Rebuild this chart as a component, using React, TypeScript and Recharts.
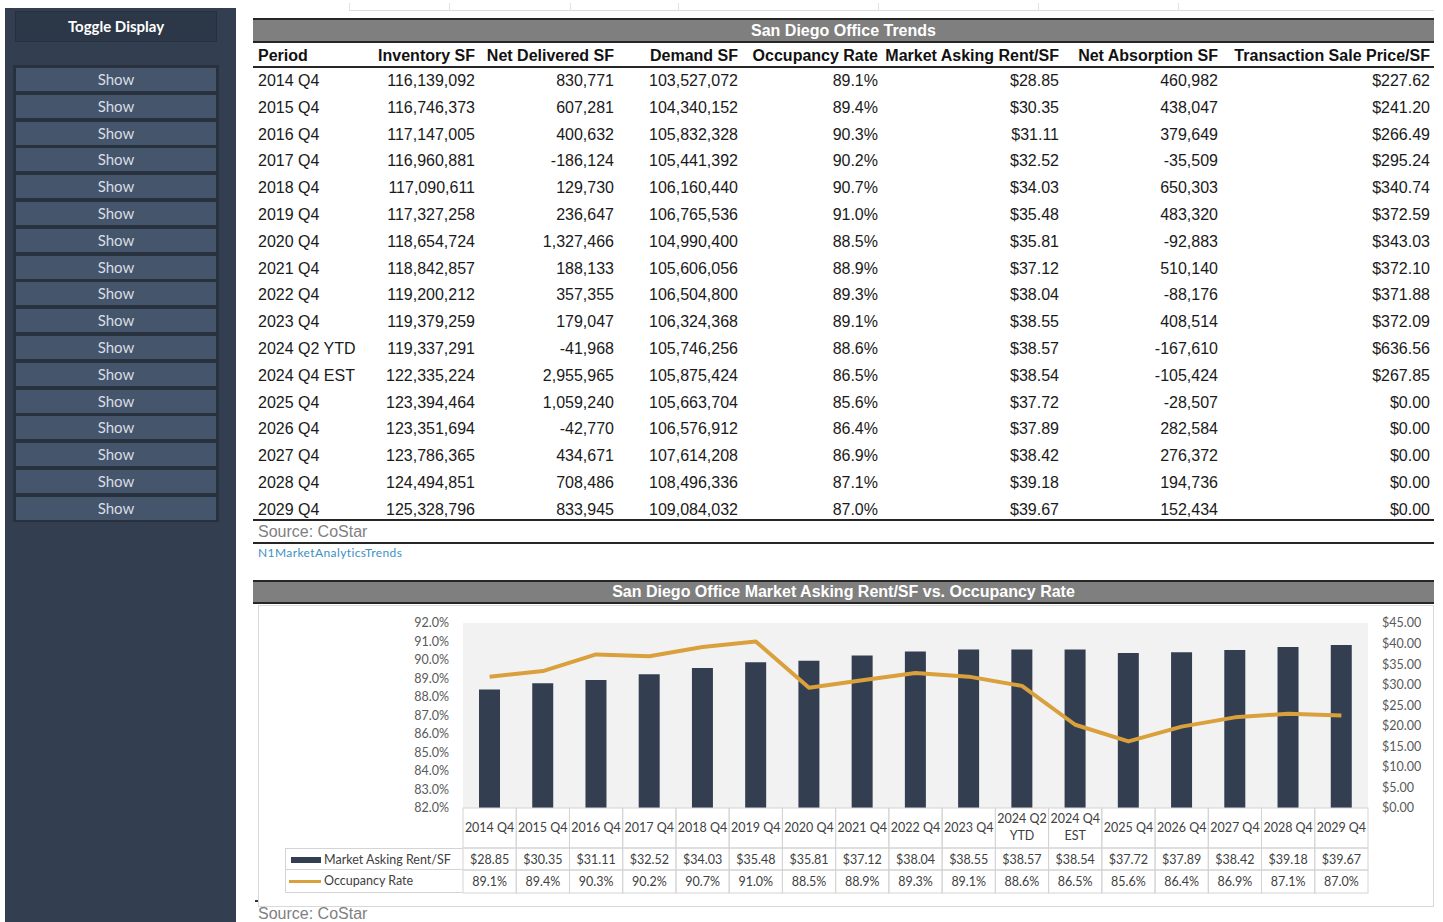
import React from 'react';
import { Bar, CartesianGrid, ComposedChart, Line, XAxis, YAxis } from 'recharts';

const periods = [
  '2014 Q4', '2015 Q4', '2016 Q4', '2017 Q4', '2018 Q4', '2019 Q4', '2020 Q4', '2021 Q4', '2022 Q4',
  '2023 Q4', '2024 Q2 YTD', '2024 Q4 EST', '2025 Q4', '2026 Q4', '2027 Q4', '2028 Q4', '2029 Q4',
];
const inventorySF = [
  116139092, 116746373, 117147005, 116960881, 117090611, 117327258, 118654724, 118842857, 119200212,
  119379259, 119337291, 122335224, 123394464, 123351694, 123786365, 124494851, 125328796,
];
const netDeliveredSF = [
  830771, 607281, 400632, -186124, 129730, 236647, 1327466, 188133, 357355,
  179047, -41968, 2955965, 1059240, -42770, 434671, 708486, 833945,
];
const demandSF = [
  103527072, 104340152, 105832328, 105441392, 106160440, 106765536, 104990400, 105606056, 106504800,
  106324368, 105746256, 105875424, 105663704, 106576912, 107614208, 108496336, 109084032,
];
const occupancyRate = [89.1, 89.4, 90.3, 90.2, 90.7, 91.0, 88.5, 88.9, 89.3, 89.1, 88.6, 86.5, 85.6, 86.4, 86.9, 87.1, 87.0];
const askingRent = [28.85, 30.35, 31.11, 32.52, 34.03, 35.48, 35.81, 37.12, 38.04, 38.55, 38.57, 38.54, 37.72, 37.89, 38.42, 39.18, 39.67];
const netAbsorptionSF = [
  460982, 438047, 379649, -35509, 650303, 483320, -92883, 510140, -88176,
  408514, -167610, -105424, -28507, 282584, 276372, 194736, 152434,
];
const salePrice = [227.62, 241.2, 266.49, 295.24, 340.74, 372.59, 343.03, 372.1, 371.88, 372.09, 636.56, 267.85, 0, 0, 0, 0, 0];

const occTicks = [82, 83, 84, 85, 86, 87, 88, 89, 90, 91, 92];
const rentTicks = [0, 5, 10, 15, 20, 25, 30, 35, 40, 45];

const chartData = periods.map((p, i) => ({ period: p, rent: askingRent[i], occ: occupancyRate[i] }));

const num = (v: number) => v.toLocaleString('en-US');
const money = (v: number) => '$' + v.toFixed(2);
const pct = (v: number) => v.toFixed(1) + '%';

const ROW_TOP = 67;
const ROW_H = 26.8;

const CHART_W = 1175;
const CHART_H = 300;
const LEFT_W = 205;
const RIGHT_W = 65;
const BAND = (CHART_W - LEFT_W - RIGHT_W) / periods.length;

const GRID = '#d4d4d4';
const CELL_FONT = 'Lato, "Open Sans", sans-serif';

const columns = [
  { title: 'Inventory SF', right: 475, values: inventorySF.map(num) },
  { title: 'Net Delivered SF', right: 614, values: netDeliveredSF.map(num) },
  { title: 'Demand SF', right: 738, values: demandSF.map(num) },
  { title: 'Occupancy Rate', right: 878, values: occupancyRate.map(pct) },
  { title: 'Market Asking Rent/SF', right: 1059, values: askingRent.map(money) },
  { title: 'Net Absorption SF', right: 1218, values: netAbsorptionSF.map(num) },
  { title: 'Transaction Sale Price/SF', right: 1430, values: salePrice.map(money) },
];

// category label + the two data-table rows under each bar
const TableTick = (props: any) => {
  const { x, y, payload } = props;
  const i = payload.index;
  const label: string = payload.value;
  const lines = label.length > 7 ? [label.slice(0, 7), label.slice(8)] : [label];
  const left = x - BAND / 2;
  const txt = { fontFamily: CELL_FONT, fontSize: 12.5, fill: '#404040', textAnchor: 'middle' as const };
  return (
    <g>
      <rect x={left} y={y} width={BAND} height={40} fill="none" stroke={GRID} />
      <rect x={left} y={y + 40} width={BAND} height={22} fill="none" stroke={GRID} />
      <rect x={left} y={y + 62} width={BAND} height={23} fill="none" stroke={GRID} />
      {lines.length === 1 ? (
        <text x={x} y={y + 24} {...txt}>{lines[0]}</text>
      ) : (
        <>
          <text x={x} y={y + 15} {...txt}>{lines[0]}</text>
          <text x={x} y={y + 32} {...txt}>{lines[1]}</text>
        </>
      )}
      <text x={x} y={y + 56} {...txt}>{money(askingRent[i])}</text>
      <text x={x} y={y + 78} {...txt}>{pct(occupancyRate[i])}</text>
    </g>
  );
};

const abs = (s: React.CSSProperties): React.CSSProperties => ({ position: 'absolute', ...s });

export default function App() {
  return (
    <div style={abs({ left: 0, top: 0, width: 1443, height: 922, overflow: 'hidden', background: '#fff', fontFamily: '"Liberation Sans", Arial, sans-serif' })}>
      {/* sidebar */}
      <div style={abs({ left: 5, top: 8, width: 231, height: 914, background: '#333f51' })} />
      <div style={abs({ left: 15, top: 11, width: 200, height: 29, background: '#2c3747', border: '1px solid #27303e', color: '#fff', fontFamily: CELL_FONT, fontWeight: 700, fontSize: 15, textAlign: 'center', lineHeight: '29px' })}>
        Toggle Display
      </div>
      <div style={abs({ left: 13, top: 65, width: 206, height: 457, background: '#28323f' })} />
      {periods.map((p, i) => (
        <div key={p} style={abs({ left: 16, top: ROW_TOP + 1 + i * ROW_H, width: 200, height: 23, background: '#45556c', color: '#d8dde4', fontFamily: CELL_FONT, fontSize: 15, textAlign: 'center', lineHeight: '23px' })}>
          Show
        </div>
      ))}

      {/* faint sheet grid above table */}
      <div style={abs({ left: 349, top: 10, width: 1085, height: 1, background: '#dcdcdc' })} />
      {[349, 449, 570, 678, 878, 1038, 1178].map((x) => (
        <div key={x} style={abs({ left: x, top: 3, width: 1, height: 8, background: '#e2e2e2' })} />
      ))}

      {/* trends table */}
      <div style={abs({ left: 253, top: 18, width: 1181, height: 21, background: '#7f7f7f', borderTop: '2px solid #262626', borderBottom: '2px solid #262626', color: '#fff', fontWeight: 700, fontSize: 16, textAlign: 'center', lineHeight: '21px' })}>
        San Diego Office Trends
      </div>
      <div style={abs({ left: 253, top: 66, width: 1181, height: 1.5, background: '#262626' })} />
      <div style={abs({ left: 258, top: 46.5, fontWeight: 700, fontSize: 16, color: '#111' })}>Period</div>
      {columns.map((c) => (
        <div key={c.title} style={abs({ left: c.right - 300, width: 300, top: 46.5, textAlign: 'right', fontWeight: 700, fontSize: 16, color: '#111', whiteSpace: 'nowrap' })}>
          {c.title}
        </div>
      ))}
      {periods.map((p, i) => (
        <React.Fragment key={p}>
          <div style={abs({ left: 258, top: ROW_TOP + 5 + i * ROW_H, fontSize: 16, color: '#1a1a1a', whiteSpace: 'nowrap' })}>{p}</div>
          {columns.map((c) => (
            <div key={c.title} style={abs({ left: c.right - 200, width: 200, top: ROW_TOP + 5 + i * ROW_H, textAlign: 'right', fontSize: 16, color: '#1a1a1a' })}>
              {c.values[i]}
            </div>
          ))}
        </React.Fragment>
      ))}
      <div style={abs({ left: 253, top: 519, width: 1181, height: 1.5, background: '#262626' })} />
      <div style={abs({ left: 258, top: 523, fontSize: 16, color: '#7f7f7f' })}>Source: CoStar</div>
      <div style={abs({ left: 253, top: 542, width: 1181, height: 1.5, background: '#262626' })} />
      <div style={abs({ left: 258, top: 545, fontFamily: CELL_FONT, fontSize: 12, letterSpacing: 0.4, color: '#3d8fc4' })}>N1MarketAnalyticsTrends</div>

      {/* chart section */}
      <div style={abs({ left: 253, top: 580, width: 1181, height: 20, background: '#7f7f7f', borderTop: '2px solid #262626', borderBottom: '2px solid #262626', color: '#fff', fontWeight: 700, fontSize: 16, textAlign: 'center', lineHeight: '20px' })}>
        San Diego Office Market Asking Rent/SF vs. Occupancy Rate
      </div>
      <div style={abs({ left: 258, top: 605, width: 1174, height: 300, border: '1px solid #d9d9d9' })} />
      <div style={abs({ left: 258, top: 605 })}>
        <ComposedChart width={CHART_W} height={CHART_H} data={chartData} margin={{ top: 18, right: 0, left: 0, bottom: 7 }} barCategoryGap={0}>
          <CartesianGrid fill="#f2f2f2" horizontal={false} vertical={false} yAxisId="rent" />
          <XAxis dataKey="period" height={90} axisLine={false} tickLine={false} tickSize={0} tickMargin={0} interval={0} tick={<TableTick />} />
          <YAxis
            yAxisId="occ"
            orientation="left"
            width={LEFT_W}
            domain={[82, 92]}
            ticks={occTicks}
            interval={0}
            tickFormatter={pct}
            axisLine={false}
            tickLine={false}
            tickSize={0}
            tickMargin={14}
            tick={{ fontFamily: CELL_FONT, fontSize: 12.5, fill: '#595959' }}
          />
          <YAxis
            yAxisId="rent"
            orientation="right"
            width={RIGHT_W}
            domain={[0, 45]}
            ticks={rentTicks}
            interval={0}
            tickFormatter={money}
            axisLine={false}
            tickLine={false}
            tickSize={0}
            tickMargin={14}
            tick={{ fontFamily: CELL_FONT, fontSize: 12.5, fill: '#595959' }}
          />
          <Bar yAxisId="rent" dataKey="rent" fill="#333f50" barSize={21} isAnimationActive={false} />
          <Line yAxisId="occ" dataKey="occ" type="linear" stroke="#d9a03c" strokeWidth={4} strokeLinejoin="round" dot={false} isAnimationActive={false} />
        </ComposedChart>
      </div>

      {/* data table legend column */}
      <div style={abs({ left: 285, top: 848, width: 177, height: 22, boxSizing: 'border-box', border: `1px solid ${GRID}`, borderRight: 'none' })}>
        <div style={abs({ left: 5, top: 8, width: 30, height: 6, background: '#333f50' })} />
        <div style={abs({ left: 38, top: 3, fontFamily: CELL_FONT, fontSize: 12.5, color: '#404040', whiteSpace: 'nowrap' })}>Market Asking Rent/SF</div>
      </div>
      <div style={abs({ left: 285, top: 870, width: 177, height: 23, boxSizing: 'border-box', border: `1px solid ${GRID}`, borderTop: 'none', borderRight: 'none' })}>
        <div style={abs({ left: 3, top: 10, width: 32, height: 3, background: '#d9a03c' })} />
        <div style={abs({ left: 38, top: 3, fontFamily: CELL_FONT, fontSize: 12.5, color: '#404040', whiteSpace: 'nowrap' })}>Occupancy Rate</div>
      </div>

      <div style={abs({ left: 255, top: 900, width: 3, height: 1.5, background: '#333' })} />
      <div style={abs({ left: 258, top: 905, fontSize: 16, color: '#7f7f7f' })}>Source: CoStar</div>
    </div>
  );
}
